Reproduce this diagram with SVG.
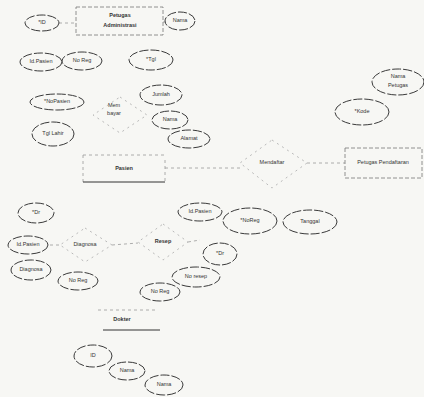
<svg xmlns="http://www.w3.org/2000/svg" width="424" height="397" viewBox="0 0 424 397">
<style>
.attr{fill:none;stroke:#3a3a3a;stroke-width:1;stroke-dasharray:9 2}
.ent{fill:none;stroke:#777;stroke-width:0.8;stroke-dasharray:4 2}
.rel{fill:none;stroke:#aaa;stroke-width:0.8;stroke-dasharray:2 4}
.ln{fill:none;stroke:#999;stroke-width:0.8;stroke-dasharray:3 3}
.bar{stroke:#333;stroke-width:1}
text{font-family:"Liberation Sans",Arial,sans-serif;font-size:5.5px;fill:#333;text-anchor:middle;dominant-baseline:middle}
.b{font-weight:bold}
</style>
<rect width="424" height="397" fill="#f7f7f4"/>
<g id="connectors">
<line class="ln" x1="59" y1="23" x2="76" y2="23"/>
<line class="ln" x1="163" y1="22" x2="166" y2="22"/>
<line class="ln" x1="83" y1="155" x2="165" y2="155"/>
<line class="ln" x1="165" y1="168" x2="240" y2="168"/>
<line class="ln" x1="307" y1="163" x2="345" y2="163"/>
<line class="ln" x1="50" y1="245" x2="60" y2="245"/>
<line class="ln" x1="112" y1="245" x2="138" y2="243"/>
<line class="ln" x1="188" y1="242" x2="200" y2="240"/>
</g>
<g id="petugas-administrasi"><rect class="ent" x="76" y="7" width="87" height="28"/><text class="b" x="120" y="16">Petugas</text><text class="b" x="120" y="26">Administrasi</text></g>
<g id="attr-id"><ellipse class="attr" cx="42" cy="23" rx="17" ry="8"/><text x="42" y="23">*ID</text></g>
<g id="attr-nama1"><ellipse class="attr" cx="180" cy="21" rx="15" ry="9"/><text x="180" y="21">Nama</text></g>
<g id="attr-idpasien1"><ellipse class="attr" cx="41" cy="62" rx="21" ry="9"/><text x="41" y="62">Id.Pasien</text></g>
<g id="attr-noreg1"><ellipse class="attr" cx="82" cy="61" rx="20" ry="9"/><text x="82" y="61">No Reg</text></g>
<g id="attr-tgl"><ellipse class="attr" cx="151" cy="60" rx="22" ry="10"/><text x="151" y="60">*Tgl</text></g>
<g id="attr-namapetugas"><ellipse class="attr" cx="398" cy="82" rx="26" ry="13"/><text x="398" y="77">Nama</text><text x="398" y="86">Petugas</text></g>
<g id="attr-kode"><ellipse class="attr" cx="362" cy="112" rx="27" ry="13"/><text x="362" y="112">*Kode</text></g>
<g id="attr-nopasien"><ellipse class="attr" cx="57" cy="102" rx="27" ry="8"/><text x="57" y="102">*NoPasien</text></g>
<g id="attr-tgllahir"><ellipse class="attr" cx="53" cy="134" rx="21" ry="12"/><text x="53" y="134">Tgl Lahir</text></g>
<g id="rel-membayar"><polygon class="rel" points="120,97 147,115 120,133 93,115"/><text x="114" y="106">Mem</text><text x="114" y="114">bayar</text></g>
<g id="attr-jumlah"><ellipse class="attr" cx="161" cy="95" rx="21" ry="10"/><text x="161" y="95">Jumlah</text></g>
<g id="attr-nama2"><ellipse class="attr" cx="170" cy="120" rx="18" ry="9"/><text x="170" y="120">Nama</text></g>
<g id="attr-alamat"><ellipse class="attr" cx="189" cy="139" rx="21" ry="9"/><text x="189" y="139">Alamat</text></g>
<g id="pasien"><line class="ln" x1="83" y1="155" x2="83" y2="182"/><line class="bar" x1="83" y1="182" x2="165" y2="182"/><line class="ln" x1="165" y1="160" x2="165" y2="182"/><text class="b" x="124" y="169">Pasien</text></g>
<g id="rel-mendaftar"><polygon class="rel" points="272,140 307,163 272,188 240,163"/><text x="272" y="163">Mendaftar</text></g>
<g id="petugas-pendaftaran"><rect class="ent" x="345" y="148" width="77" height="30"/><text x="383" y="163">Petugas Pendaftaran</text></g>
<g id="attr-dr1"><ellipse class="attr" cx="36" cy="213" rx="18" ry="10"/><text x="36" y="213">*Dr</text></g>
<g id="attr-idpasien2"><ellipse class="attr" cx="28" cy="245" rx="20" ry="9"/><text x="28" y="245">Id.Pasien</text></g>
<g id="attr-diagnosa"><ellipse class="attr" cx="31" cy="270" rx="20" ry="10"/><text x="31" y="270">Diagnosa</text></g>
<g id="attr-noreg2"><ellipse class="attr" cx="78" cy="281" rx="20" ry="9"/><text x="78" y="281">No Reg</text></g>
<g id="rel-diagnosa"><polygon class="rel" points="85,228 112,245 85,262 60,245"/><text x="85" y="245">Diagnosa</text></g>
<g id="rel-resep"><polygon class="rel" points="163,224 188,242 163,260 138,242"/><text class="b" x="163" y="242">Resep</text></g>
<g id="attr-idpasien3"><ellipse class="attr" cx="200" cy="212" rx="22" ry="9"/><text x="200" y="212">Id.Pasien</text></g>
<g id="attr-noreg3"><ellipse class="attr" cx="250" cy="221" rx="27" ry="13"/><text x="250" y="221">*NoReg</text></g>
<g id="attr-tanggal"><ellipse class="attr" cx="310" cy="222" rx="27" ry="12"/><text x="310" y="222">Tanggal</text></g>
<g id="attr-dr2"><ellipse class="attr" cx="220" cy="254" rx="17" ry="11"/><text x="220" y="254">*Dr</text></g>
<g id="attr-noresep"><ellipse class="attr" cx="196" cy="277" rx="24" ry="10"/><text x="196" y="277">No resep</text></g>
<g id="attr-noreg4"><ellipse class="attr" cx="160" cy="292" rx="20" ry="9"/><text x="160" y="292">No Reg</text></g>
<g id="dokter"><line class="ln" x1="98" y1="310" x2="155" y2="310"/><line class="bar" x1="103" y1="330" x2="160" y2="330"/><text class="b" x="122" y="320">Dokter</text></g>
<g id="attr-id2"><ellipse class="attr" cx="93" cy="356" rx="19" ry="11"/><text x="93" y="356">ID</text></g>
<g id="attr-nama3"><ellipse class="attr" cx="127" cy="371" rx="18" ry="9"/><text x="127" y="371">Nama</text></g>
<g id="attr-nama4"><ellipse class="attr" cx="164" cy="385" rx="19" ry="10"/><text x="164" y="385">Nama</text></g>
</svg>
